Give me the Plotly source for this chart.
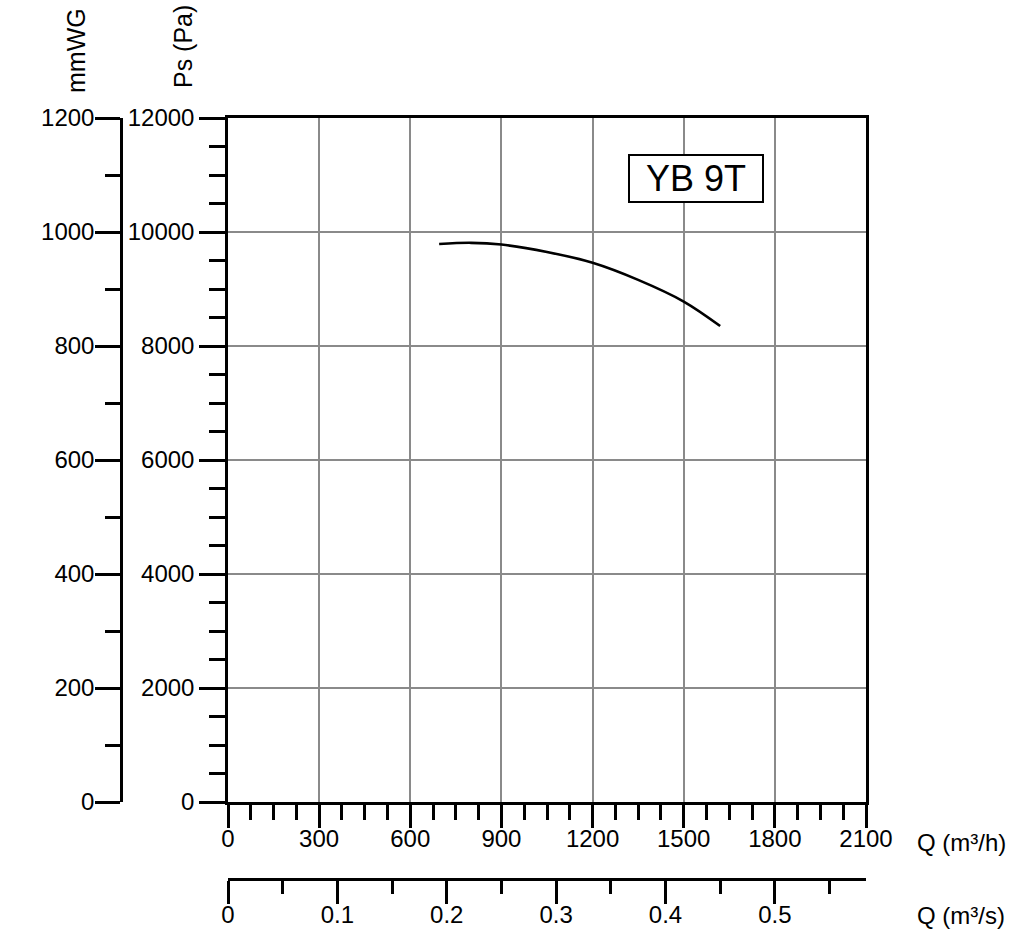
import plotly.graph_objects as go

W, H = 1024, 946

# ---- data ----
q_curve = [695, 800, 900, 1050, 1200, 1350, 1500, 1620]          # Q (m3/h)
ps_curve = [9790, 9810, 9780, 9650, 9460, 9160, 8780, 8350]      # Ps (Pa)

q_h_range = [0, 2100]          # m3/h
ps_range = [0, 12000]          # Pa
mmwg_range = [0, 1200]         # mmWG
q_s_range = [0, 2100 / 3600]   # m3/s

model_label = "YB 9T"
title_mmwg = "mmWG"
title_ps = "Ps (Pa)"
title_qh = "Q (m³/h)"
title_qs = "Q (m³/s)"

FONT = "Liberation Sans, Arial, Helvetica, sans-serif"


def px(x):
    return x / W


def py(y):
    return 1 - y / H


common = dict(
    showline=True, linecolor="black", linewidth=2.5,
    ticks="outside", tickcolor="black", tickwidth=2.5,
    zeroline=False, automargin=False, fixedrange=True,
    tickfont=dict(family=FONT, size=24, color="black"),
)

fig = go.Figure()
fig.add_trace(go.Scatter(
    x=q_curve, y=ps_curve, mode="lines",
    line=dict(color="black", width=2.6, shape="spline", smoothing=1.0),
    hoverinfo="skip", showlegend=False, xaxis="x", yaxis="y",
))
# helper traces so the secondary axes are drawn
fig.add_trace(go.Scatter(x=[0], y=[0], mode="markers", marker=dict(opacity=0),
                         hoverinfo="skip", showlegend=False, xaxis="x2", yaxis="y"))
fig.add_trace(go.Scatter(x=[0], y=[0], mode="markers", marker=dict(opacity=0),
                         hoverinfo="skip", showlegend=False, xaxis="x", yaxis="y2"))

fig.update_layout(
    width=W, height=H,
    margin=dict(l=0, r=0, t=0, b=0),
    paper_bgcolor="white", plot_bgcolor="white",
    showlegend=False,
    font=dict(family=FONT, size=24, color="black"),
    xaxis=dict(
        domain=[px(228), px(866)], range=q_h_range, anchor="y",
        tickmode="linear", tick0=0, dtick=300, ticklen=23, tickformat="d",
        mirror=True, showgrid=True, gridcolor="#8a8a8a", gridwidth=2,
        minor=dict(tick0=0, dtick=75, ticks="outside", ticklen=15,
                   tickwidth=2.5, tickcolor="black", showgrid=False),
        ticklabelstandoff=-10,
        **common,
    ),
    yaxis=dict(
        domain=[py(802), py(118)], range=ps_range, anchor="x",
        tickmode="linear", tick0=0, dtick=2000, ticklen=26, tickformat="d",
        mirror=True, showgrid=True, gridcolor="#8a8a8a", gridwidth=2,
        minor=dict(tick0=0, dtick=500, ticks="outside", ticklen=16,
                   tickwidth=2.5, tickcolor="black", showgrid=False),
        ticklabelstandoff=0,
        **common,
    ),
    yaxis2=dict(
        overlaying="y", anchor="free", position=px(121), side="left",
        range=mmwg_range, tickmode="linear", tick0=0, dtick=200, ticklen=25,
        tickformat="d", showgrid=False,
        minor=dict(tick0=0, dtick=100, ticks="outside", ticklen=15,
                   tickwidth=2.5, tickcolor="black", showgrid=False),
        ticklabelstandoff=-4,
        **common,
    ),
    xaxis2=dict(
        overlaying="x", anchor="free", position=py(879), side="bottom",
        range=q_s_range, tickmode="linear", tick0=0, dtick=0.1, ticklen=23,
        showgrid=False,
        minor=dict(tick0=0, dtick=0.05, ticks="outside", ticklen=13,
                   tickwidth=2.5, tickcolor="black", showgrid=False),
        ticklabelstandoff=-10,
        **common,
    ),
    annotations=[
        dict(text=title_mmwg, x=px(76), y=py(51), xref="paper", yref="paper",
             textangle=-90, showarrow=False, font=dict(family=FONT, size=25),
             xanchor="center", yanchor="middle"),
        dict(text=title_ps, x=px(183), y=py(47), xref="paper", yref="paper",
             textangle=-90, showarrow=False, font=dict(family=FONT, size=25),
             xanchor="center", yanchor="middle"),
        dict(text=title_qh, x=px(915), y=py(842), xref="paper", yref="paper",
             showarrow=False, font=dict(family=FONT, size=24),
             xanchor="left", yanchor="middle"),
        dict(text=title_qs, x=px(915), y=py(915), xref="paper", yref="paper",
             showarrow=False, font=dict(family=FONT, size=24),
             xanchor="left", yanchor="middle"),
        dict(text=model_label, x=px(696), y=py(178.5), xref="paper", yref="paper",
             showarrow=False, font=dict(family=FONT, size=36, color="black"),
             xanchor="center", yanchor="middle",
             bordercolor="black", borderwidth=2, borderpad=0,
             bgcolor="white", width=132, height=45),
    ],
)

fig.write_html("out.html")
